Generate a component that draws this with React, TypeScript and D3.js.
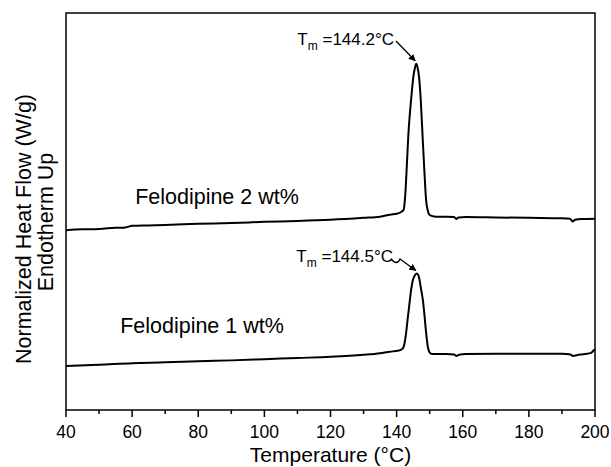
import React from "react";
import * as d3 from "d3";

// Felodipine 2 wt% (upper trace): temperature (°C) and normalized heat flow (arb. units)
const tempUpper = [40, 45, 50, 55, 58, 60, 65, 70, 80, 90, 100, 110, 120, 130, 135, 138, 140.3,
  141.6, 142.1, 142.6, 143.1, 143.6, 144.1, 144.6, 145.1, 145.6, 145.9, 146.3, 146.8, 147.3, 147.9,
  148.4, 148.9, 149.4, 149.9, 150.6, 152, 155, 157.4, 158.0, 158.7, 161, 170, 180, 190, 192.4,
  193.2, 194.0, 196, 200];
const flowUpper = [45.3, 45.5, 45.6, 45.9, 46.0, 46.4, 46.5, 46.6, 46.9, 47.1, 47.4, 47.6, 47.9, 48.4, 48.7, 49.2, 49.5,
  50.0, 50.4, 54.0, 61.8, 70.1, 75.6, 80.2, 84.2, 86.4, 87.2, 86.4, 83.7, 78.1, 68.1,
  60.1, 53.0, 50.3, 49.2, 48.9, 48.7, 48.7, 48.6, 48.1, 48.5, 48.6, 48.5, 48.4, 48.3, 48.2,
  47.5, 47.9, 48.1, 48.2];

// Felodipine 1 wt% (lower trace)
const tempLower = [40, 50, 60, 70, 80, 90, 100, 110, 120, 130, 135, 138, 140.3,
  141.6, 142.2, 142.6, 142.9, 143.4, 143.9, 144.4, 144.9, 145.5, 146.1, 146.6, 146.9, 147.4,
  147.9, 148.4, 148.9, 149.4, 149.9, 150.6, 152, 155, 157.4, 158.0, 158.9, 161, 170, 180, 190,
  192.6, 193.3, 194.5, 197, 198.8, 199.7, 200];
const flowLower = [11.1, 11.4, 11.8, 12.0, 12.3, 12.5, 12.8, 13.1, 13.4, 13.9, 14.3, 14.7, 14.9,
  15.3, 16.1, 17.8, 19.6, 23.4, 26.9, 30.4, 32.7, 33.9, 34.4, 33.9, 32.9, 30.4,
  27.9, 24.1, 19.6, 16.1, 14.6, 14.1, 14.1, 14.1, 14.0, 13.6, 13.9, 14.1, 14.2, 14.2, 14.2,
  14.0, 13.6, 13.8, 14.1, 14.4, 15.1, 15.3];

const xMajorTicks = [40, 60, 80, 100, 120, 140, 160, 180, 200];
const xMinorTicks = [50, 70, 90, 110, 130, 150, 170, 190];

const seriesLabels = ["Felodipine 2 wt%", "Felodipine 1 wt%"];
const peakTemps = ["144.2", "144.5"];

const W = 611;
const H = 467;
const FONT = "'Liberation Sans', Arial, Helvetica, sans-serif";

export default function App() {
  const left = 66, right = 595, top = 13, bottom = 410;
  const x = d3.scaleLinear().domain([40, 200]).range([left, right]);
  const y = d3.scaleLinear().domain([0, 100]).range([bottom, top]);

  const line = d3
    .line<[number, number]>()
    .x((d) => x(d[0]))
    .y((d) => y(d[1]))
    .curve(d3.curveMonotoneX);

  const upper = tempUpper.map((t, i) => [t, flowUpper[i]] as [number, number]);
  const lower = tempLower.map((t, i) => [t, flowLower[i]] as [number, number]);

  const upPeakIdx = d3.maxIndex(flowUpper);
  const loPeakIdx = d3.maxIndex(flowLower);
  const upPx = x(tempUpper[upPeakIdx]);
  const upPy = y(flowUpper[upPeakIdx]);
  const loPx = x(tempLower[loPeakIdx]);
  const loPy = y(flowLower[loPeakIdx]);

  return (
    <svg width={W} height={H} style={{ position: "absolute", left: 0, top: 0, background: "#fff" }}
      fontFamily={FONT}>
      <defs>
        <marker id="arr" viewBox="0 0 10 10" refX="9" refY="5" markerWidth="7" markerHeight="7"
          orient="auto" markerUnits="userSpaceOnUse">
          <path d="M0,0 L10,5 L0,10 z" fill="#000" />
        </marker>
      </defs>
      <rect x={0} y={0} width={W} height={H} fill="#fff" />

      {/* traces */}
      <path d={line(upper) || ""} fill="none" stroke="#000" strokeWidth={2} strokeLinejoin="round" />
      <path d={line(lower) || ""} fill="none" stroke="#000" strokeWidth={2} strokeLinejoin="round" />

      {/* frame */}
      <rect x={left} y={top} width={right - left} height={bottom - top} fill="none" stroke="#000" strokeWidth={1.5} />

      {/* x ticks */}
      {xMajorTicks.map((t) => (
        <g key={"M" + t}>
          <line x1={x(t)} x2={x(t)} y1={bottom} y2={bottom + 7} stroke="#000" strokeWidth={1.5} />
          <text x={x(t)} y={438} textAnchor="middle" fontSize={17.5} fill="#000">{t}</text>
        </g>
      ))}
      {xMinorTicks.map((t) => (
        <line key={"m" + t} x1={x(t)} x2={x(t)} y1={bottom} y2={bottom + 4} stroke="#000" strokeWidth={1.5} />
      ))}

      {/* axis titles */}
      <text x={(left + right) / 2} y={462} textAnchor="middle" fontSize={21} fill="#000">Temperature (°C)</text>
      <text transform="rotate(-90)" x={-229} y={31} textAnchor="middle" fontSize={21.5} fill="#000">
        Normalized Heat Flow (W/g)
      </text>
      <text transform="rotate(-90)" x={-222} y={53} textAnchor="middle" fontSize={21.5} fill="#000">
        Endotherm Up
      </text>

      {/* series labels */}
      <text x={217} y={204} textAnchor="middle" fontSize={21.5} fill="#000">{seriesLabels[0]}</text>
      <text x={202} y={333} textAnchor="middle" fontSize={21.5} fill="#000">{seriesLabels[1]}</text>

      {/* Tm annotations */}
      <text x={394} y={45} textAnchor="end" fontSize={17} fill="#000">
        T<tspan fontSize={12} dy={5}>m</tspan><tspan dy={-5}> =</tspan>{peakTemps[0]}°C
      </text>
      <path d={`M${396},${41} L${upPx - 1},${upPy - 3}`} stroke="#000" strokeWidth={1.3} fill="none" markerEnd="url(#arr)" />

      <text x={393} y={262} textAnchor="end" fontSize={17} fill="#000">
        T<tspan fontSize={12} dy={5}>m</tspan><tspan dy={-5}> =</tspan>{peakTemps[1]}°C
      </text>
      <path d={`M${391},${259} Q${397},${266} ${400},${259} L${loPx - 1},${loPy - 3}`} stroke="#000" strokeWidth={1.3} fill="none" markerEnd="url(#arr)" />
    </svg>
  );
}
